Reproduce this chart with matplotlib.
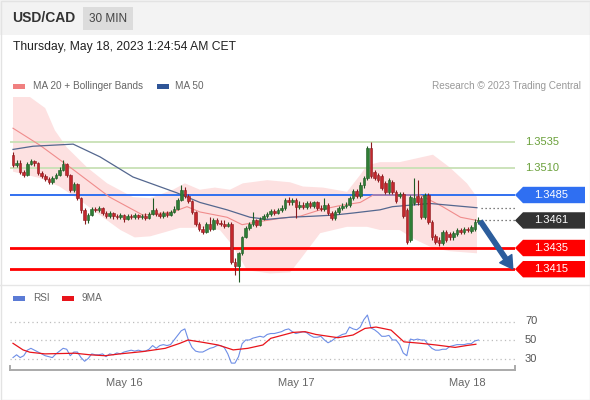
import matplotlib
matplotlib.use('Agg')
import matplotlib.pyplot as plt
import matplotlib.transforms as mtransforms
from matplotlib.patches import Polygon, Rectangle
from matplotlib.lines import Line2D
import numpy as np
import pandas as pd

plt.rcParams['font.family'] = ['Liberation Sans', 'DejaVu Sans']

# ---------------- data ----------------
times = pd.date_range('2023-05-15 08:30', periods=131, freq='30min')

opens = [1.3523, 1.3513, 1.3515, 1.3507, 1.3504, 1.3514, 1.3517, 1.3515, 1.3506, 1.3503,
         1.3500, 1.3497, 1.3501, 1.3504, 1.3509, 1.3514, 1.3504, 1.3490, 1.3495, 1.3482,
         1.3471, 1.3461, 1.3466, 1.3472, 1.3471, 1.3473, 1.3468, 1.3465, 1.3468, 1.3465,
         1.3464, 1.3466, 1.3462, 1.3465, 1.3464, 1.3466, 1.3464, 1.3465, 1.3463, 1.3467,
         1.3471, 1.3467, 1.3465, 1.3468, 1.3466, 1.3469, 1.3472, 1.3480, 1.3490, 1.3484,
         1.3479, 1.3469, 1.3458, 1.3453, 1.3450, 1.3458, 1.3453, 1.3461, 1.3459, 1.3458,
         1.3456, 1.3458, 1.3422, 1.3418, 1.3430, 1.3445, 1.3454, 1.3458, 1.3461, 1.3457,
         1.3462, 1.3465, 1.3467, 1.3470, 1.3468, 1.3471, 1.3473, 1.3480, 1.3478, 1.3480,
         1.3474, 1.3476, 1.3474, 1.3477, 1.3475, 1.3478, 1.3473, 1.3472, 1.3476, 1.3468,
         1.3463, 1.3469, 1.3473, 1.3475, 1.3476, 1.3482, 1.3489, 1.3484, 1.3494, 1.3501,
         1.3529, 1.3507, 1.3504, 1.3503, 1.3496, 1.3488, 1.3497, 1.3488, 1.3484, 1.3486,
         1.3471, 1.3443, 1.3477, 1.3484, 1.3482, 1.3464, 1.3485, 1.3460, 1.3446, 1.3443,
         1.3440, 1.3450, 1.3448, 1.3445, 1.3448, 1.3452, 1.3450, 1.3453, 1.3451, 1.3453,
         1.3460]
closes = [1.3513, 1.3515, 1.3507, 1.3504, 1.3514, 1.3517, 1.3515, 1.3506, 1.3503, 1.3500,
          1.3497, 1.3501, 1.3504, 1.3509, 1.3514, 1.3504, 1.3490, 1.3495, 1.3482, 1.3471,
          1.3461, 1.3466, 1.3472, 1.3471, 1.3473, 1.3468, 1.3465, 1.3468, 1.3465, 1.3464,
          1.3466, 1.3462, 1.3465, 1.3464, 1.3466, 1.3464, 1.3465, 1.3463, 1.3467, 1.3471,
          1.3467, 1.3465, 1.3468, 1.3466, 1.3469, 1.3472, 1.3480, 1.3490, 1.3484, 1.3479,
          1.3469, 1.3458, 1.3453, 1.3450, 1.3458, 1.3453, 1.3461, 1.3459, 1.3458, 1.3456,
          1.3458, 1.3422, 1.3418, 1.3430, 1.3445, 1.3454, 1.3458, 1.3461, 1.3457, 1.3462,
          1.3465, 1.3467, 1.3470, 1.3468, 1.3471, 1.3473, 1.3480, 1.3478, 1.3480, 1.3474,
          1.3476, 1.3474, 1.3477, 1.3475, 1.3478, 1.3473, 1.3472, 1.3476, 1.3468, 1.3463,
          1.3469, 1.3473, 1.3475, 1.3476, 1.3482, 1.3489, 1.3484, 1.3494, 1.3501, 1.3529,
          1.3503, 1.3501, 1.3499, 1.3492, 1.3488, 1.3499, 1.3488, 1.3479, 1.3486, 1.3465,
          1.3441, 1.3483, 1.3482, 1.3478, 1.3464, 1.3485, 1.3460, 1.3445, 1.3441, 1.3440,
          1.3450, 1.3443, 1.3445, 1.3449, 1.3452, 1.3450, 1.3453, 1.3452, 1.3455, 1.3460,
          1.3461]
highs = [1.3526, 1.3518, 1.3518, 1.3509, 1.3516, 1.3519, 1.3518, 1.3516, 1.3508, 1.3505,
         1.3502, 1.3503, 1.3506, 1.3511, 1.3518, 1.3515, 1.3505, 1.3497, 1.3496, 1.3483,
         1.3473, 1.3468, 1.3474, 1.3474, 1.3475, 1.3474, 1.3470, 1.3470, 1.3469, 1.3467,
         1.3468, 1.3467, 1.3467, 1.3467, 1.3468, 1.3467, 1.3467, 1.3468, 1.3469, 1.3482,
         1.3473, 1.3469, 1.3470, 1.3470, 1.3471, 1.3475, 1.3482, 1.3494, 1.3493, 1.3486,
         1.3480, 1.3470, 1.3460, 1.3456, 1.3460, 1.3464, 1.3463, 1.3463, 1.3461, 1.3461,
         1.3460, 1.3460, 1.3426, 1.3431, 1.3446, 1.3456, 1.3460, 1.3469, 1.3462, 1.3464,
         1.3467, 1.3469, 1.3472, 1.3472, 1.3473, 1.3476, 1.3482, 1.3483, 1.3482, 1.3482,
         1.3479, 1.3478, 1.3479, 1.3479, 1.3479, 1.3479, 1.3476, 1.3482, 1.3477, 1.3470,
         1.3471, 1.3475, 1.3477, 1.3478, 1.3484, 1.3491, 1.3491, 1.3497, 1.3503, 1.3531,
         1.3535, 1.3509, 1.3506, 1.3505, 1.3498, 1.3501, 1.3499, 1.3490, 1.3488, 1.3488,
         1.3473, 1.3485, 1.3501, 1.3499, 1.3484, 1.3487, 1.3487, 1.3461, 1.3448, 1.3445,
         1.3452, 1.3452, 1.3450, 1.3451, 1.3454, 1.3454, 1.3455, 1.3455, 1.3457, 1.3462,
         1.3464]
lows = [1.3511, 1.3511, 1.3505, 1.3502, 1.3503, 1.3513, 1.3512, 1.3504, 1.3501, 1.3498,
        1.3495, 1.3495, 1.3500, 1.3503, 1.3508, 1.3502, 1.3488, 1.3488, 1.3480, 1.3468,
        1.3458, 1.3459, 1.3465, 1.3469, 1.3469, 1.3466, 1.3463, 1.3463, 1.3462, 1.3462,
        1.3462, 1.3460, 1.3461, 1.3462, 1.3462, 1.3462, 1.3462, 1.3461, 1.3462, 1.3466,
        1.3465, 1.3463, 1.3463, 1.3464, 1.3465, 1.3468, 1.3471, 1.3479, 1.3482, 1.3477,
        1.3467, 1.3456, 1.3451, 1.3448, 1.3449, 1.3451, 1.3452, 1.3457, 1.3456, 1.3454,
        1.3455, 1.3420, 1.3410, 1.3403, 1.3428, 1.3444, 1.3452, 1.3456, 1.3455, 1.3456,
        1.3461, 1.3463, 1.3465, 1.3466, 1.3467, 1.3469, 1.3471, 1.3476, 1.3476, 1.3463,
        1.3472, 1.3472, 1.3472, 1.3473, 1.3473, 1.3471, 1.3470, 1.3470, 1.3466, 1.3461,
        1.3461, 1.3467, 1.3471, 1.3473, 1.3474, 1.3480, 1.3482, 1.3482, 1.3492, 1.3499,
        1.3501, 1.3499, 1.3497, 1.3490, 1.3486, 1.3486, 1.3486, 1.3477, 1.3482, 1.3463,
        1.3439, 1.3441, 1.3476, 1.3476, 1.3462, 1.3462, 1.3458, 1.3443, 1.3439, 1.3437,
        1.3438, 1.3441, 1.3443, 1.3443, 1.3446, 1.3448, 1.3448, 1.3450, 1.3449, 1.3451,
        1.3458]

# indicator readings (candle index, value)
ma20_idx = [0, 7.5, 16.8, 27, 36.3, 44.7, 48.6, 52.2, 59.8, 64, 69, 74.6, 80.2, 85.8,
            91.3, 97, 100.6, 106, 113.7, 120, 125, 129.6]
ma20_val = [1.3548, 1.3532, 1.3509, 1.3483, 1.3466, 1.3469, 1.3474, 1.3469, 1.3464, 1.3457,
            1.3460, 1.3463, 1.3465, 1.3471, 1.3475, 1.3478, 1.3485, 1.3485, 1.3485, 1.3474,
            1.3464, 1.3461]
ma50_idx = [0, 5.6, 16.8, 24.3, 33.5, 45.8, 52.2, 59.8, 66.2, 71, 77.4, 83.8, 89.4, 95,
            102.5, 106, 116.5, 129.6]
ma50_val = [1.3528, 1.3531, 1.3533, 1.3521, 1.3502, 1.3487, 1.3478, 1.3471, 1.3464, 1.3462,
            1.3464, 1.3465, 1.3466, 1.3468, 1.3471, 1.3474, 1.3477, 1.3473]
bb_up_idx = [0, 9, 11.7, 15, 20.7, 26.3, 33.5, 38.3, 44.7, 48, 52.2, 56.4, 60.6, 64.2,
             71, 77.4, 81, 86.6, 93.3, 97, 98.9, 102.5, 108, 117.3, 122, 126.8, 129.6]
bb_up_val = [1.3589, 1.3567, 1.3546, 1.3530, 1.3511, 1.3496, 1.3483, 1.3482, 1.3490, 1.3496,
             1.3490, 1.3492, 1.3490, 1.3496, 1.3499, 1.3497, 1.3493, 1.3492, 1.3488, 1.3504,
             1.3513, 1.3516, 1.3516, 1.3523, 1.3511, 1.3496, 1.3483]
bb_lo_idx = [0, 7.5, 13, 18.7, 24.3, 30, 34, 38.3, 42.5, 46.6, 52.2, 57.8, 61.2, 65.4,
             71.8, 77.4, 80.2, 85.8, 93.3, 98.9, 102.5, 108, 112.3, 117.3, 122, 129.6]
bb_lo_val = [1.3507, 1.3501, 1.3493, 1.3480, 1.3466, 1.3452, 1.3445, 1.3446, 1.3450, 1.3454,
             1.3454, 1.3452, 1.3438, 1.3414, 1.3411, 1.3412, 1.3424, 1.3449, 1.3455, 1.3455,
             1.3452, 1.3452, 1.3443, 1.3435, 1.3432, 1.3430]

rsi = [31, 34, 31, 33, 39, 41, 39, 37, 35, 33, 32, 31, 35, 38, 41, 40, 33, 37, 37, 31,
       27, 30, 35, 34, 34, 35, 32, 35, 34, 36, 35, 37, 38, 39, 38, 39, 38, 38, 40, 44,
       41, 44, 45, 44, 45, 50, 55, 60, 62, 50, 42, 38, 37, 37, 39, 41, 42, 44, 44, 42,
       35, 25, 25, 32, 46, 50, 50, 52, 53, 54, 53, 56, 57, 57, 58, 59, 61, 62, 59, 57,
       58, 59, 58, 55, 53, 53, 54, 50, 47, 49, 52, 54, 56, 57, 64, 62, 61, 64, 72, 77,
       63, 61, 58, 54, 54, 55, 50, 50, 45, 36, 33, 51, 50, 51, 50, 50, 45, 41, 39, 39,
       40, 40, 43, 44, 45, 45, 45, 46, 46, 49, 50]
rsi_ma_idx = [0, 2.8, 4.7, 8.9, 17.3, 21.5, 25.7, 29.9, 36.3, 42.5, 46.6, 48.9, 53, 57.3,
              61.5, 65.6, 69.8, 72, 78.2, 81.6, 84.6, 88.8, 90.8, 95, 98.3, 101.4, 105.6,
              109.2, 114, 118.2, 123.5, 126.5, 129.3]
rsi_ma_val = [46.4, 39.3, 36.8, 35, 35.7, 34, 33, 35, 37.5, 41, 46.4, 50, 47.5, 44.6,
              39.3, 41, 44.6, 51.8, 58.2, 59, 56, 53.6, 52.5, 55.4, 62.5, 64, 60.7,
              48, 46.4, 44.6, 42, 43.9, 45.4]

resist_levels = [1.3535, 1.3510]
pivot_level = 1.3485
last_price = 1.3461
support_levels = [1.3435, 1.3415]
rsi_levels = [70, 50, 30]

# ---------------- figure ----------------
W, H = 590, 400
fig = plt.figure(figsize=(W / 100, H / 100), dpi=100)
fig.patch.set_facecolor('white')

# header band
fig.patches.append(Rectangle((0, 1 - 35 / H), 1, 35 / H, transform=fig.transFigure,
                             facecolor='#f3f3f3', edgecolor='none', zorder=0))
fig.patches.append(Rectangle((83 / W, 1 - 30 / H), 50 / W, 23 / H, transform=fig.transFigure,
                             facecolor='#dcdcdc', edgecolor='none', zorder=1))
fig.text(12 / W, 1 - 18.5 / H, 'USD/CAD', fontsize=10, fontweight='bold', color='#333333',
         va='center', ha='left')
fig.text(108 / W, 1 - 18.5 / H, '30 MIN', fontsize=8.5, color='#444444', va='center', ha='center')
fig.text(13 / W, 1 - 47 / H, 'Thursday, May 18, 2023 1:24:54 AM CET', fontsize=8.7,
         color='#222222', va='center', ha='left')

# legend row
fig.patches.append(Rectangle((13 / W, 1 - 88.5 / H), 12 / W, 5 / H, transform=fig.transFigure,
                             facecolor='#f08080', edgecolor='none'))
fig.text(33 / W, 1 - 86 / H, 'MA 20 + Bollinger Bands', fontsize=7.2, color='#666666',
         va='center', ha='left')
fig.patches.append(Rectangle((157 / W, 1 - 88.5 / H), 12 / W, 5 / H, transform=fig.transFigure,
                             facecolor='#2f5597', edgecolor='none'))
fig.text(175 / W, 1 - 86 / H, 'MA 50', fontsize=7.2, color='#666666', va='center', ha='left')
fig.text(581 / W, 1 - 86 / H, 'Research \u00a9 2023 Trading Central', fontsize=7.2,
         color='#999999', va='center', ha='right')

# separator and border
fig.lines.append(Line2D([0, 1], [1 - 285 / H, 1 - 285 / H], transform=fig.transFigure,
                        color='#e6e6e6', lw=1))
fig.patches.append(Rectangle((0.5 / W, 0.5 / H), 1 - 1 / W, 1 - 1 / H, transform=fig.transFigure,
                             facecolor='none', edgecolor='#e3e3e3', lw=1))

# ---------------- price axes ----------------
x = np.arange(len(closes))
px_per_idx = 3.58
x0 = (10 - 13) / px_per_idx
x1 = (515 - 13) / px_per_idx
ax = fig.add_axes([10 / W, 1 - 284 / H, 505 / W, 187 / H])
ax.set_xlim(x0, x1)
ax.set_ylim(1.340104, 1.357745)
ax.axis('off')

# bollinger band fill
ax.fill(np.r_[bb_up_idx, bb_lo_idx[::-1]], np.r_[bb_up_val, bb_lo_val[::-1]],
        color='#fde1e1', lw=0, zorder=1)

# level lines
for lv in resist_levels:
    ax.axhline(lv, color='#c8e0b5', lw=1.3, zorder=2)
ax.axhline(pivot_level, color='#3170f0', lw=1.4, zorder=2)
for lv in support_levels:
    ax.axhline(lv, color='#ff0000', lw=2, zorder=2)

# moving averages
ax.plot(ma20_idx, ma20_val, color='#f08c8c', lw=0.8, zorder=3)
ax.plot(ma50_idx, ma50_val, color='#54678f', lw=0.9, zorder=3)

# candles
o = np.array(opens); c = np.array(closes); h = np.array(highs); l = np.array(lows)
up = c >= o
body_col = np.where(up, '#2f7d35', '#c3272c')
edge_col = np.where(up, '#1f5a24', '#8a1a1e')
ax.vlines(x, l, h, colors=edge_col, lw=0.8, zorder=4)
ax.bar(x, np.maximum(np.abs(c - o), 0.00004), bottom=np.minimum(o, c), width=0.72,
       color=body_col, edgecolor=edge_col, lw=0.4, zorder=5)

# dotted extensions
ax.hlines([last_price, ma50_val[-1]], x[-1] + 0.7, x1, colors='#555555', lw=0.9,
          linestyles=(0, (1, 2.2)), zorder=3)

# arrow
ax.annotate('', xy=(139.6, support_levels[1] + 0.00002), xytext=(x[-1] + 0.6, last_price - 0.0001),
            arrowprops=dict(width=3.2, headwidth=10.5, headlength=9, color='#2c5d9c', shrink=0),
            zorder=6, annotation_clip=False)

# right side labels
trans = mtransforms.blended_transform_factory(ax.transAxes, ax.transData)
half = 8.2 / 10600
tip = 8 / 505
wlab = 70 / 505
for lv in resist_levels:
    ax.text(1 + 10 / 505, lv, f'{lv:.4f}', transform=trans, color='#6aa03a', fontsize=8,
            va='center', ha='left', clip_on=False)

def tag(level, color):
    poly = Polygon([(1.0, level), (1 + tip, level + half), (1 + wlab, level + half),
                    (1 + wlab, level - half), (1 + tip, level - half)], closed=True,
                   transform=trans, facecolor=color, edgecolor='none', clip_on=False, zorder=7)
    ax.add_patch(poly)
    ax.text(1 + (tip + wlab) / 2 - 3 / 505, level, f'{level:.4f}', transform=trans, color='white',
            fontsize=8, va='center', ha='center', clip_on=False, zorder=8)

tag(pivot_level, '#2f6ff2')
tag(last_price, '#333333')
for lv in support_levels:
    tag(lv, '#ff0000')

# ---------------- RSI axes ----------------
ax2 = fig.add_axes([10 / W, 1 - 370 / H, 505 / W, 65 / H])
ax2.set_xlim(x0, x1)
r0 = 50 - 30 / 0.925
ax2.set_ylim(r0, 50 + 35 / 0.925)
ax2.set_facecolor('none')
for lv in rsi_levels:
    ax2.axhline(lv, color='#bdbdbd', lw=0.9, linestyle=(0, (1, 2.5)), zorder=1)
    ax2.text(1 + 10 / 505, lv, str(lv), transform=mtransforms.blended_transform_factory(
        ax2.transAxes, ax2.transData), fontsize=8, color='#555555', va='center', ha='left')
ax2.plot(x, rsi, color='#6e8ee6', lw=0.8, zorder=3)
ax2.plot(rsi_ma_idx, rsi_ma_val, color='#e8141b', lw=0.9, zorder=4)

for s in ['top']:
    ax2.spines[s].set_visible(False)
for s in ['bottom', 'left', 'right']:
    ax2.spines[s].set_color('#aaaaaa')
    ax2.spines[s].set_linewidth(1.4)
ax2.spines['left'].set_bounds(r0, r0 + 4.5 / 0.925)
ax2.spines['right'].set_bounds(r0, r0 + 4.5 / 0.925)
ax2.set_yticks([])
mid = [i for i, t in enumerate(times) if t.hour == 0 and t.minute == 0]
ax2.set_xticks(mid)
ax2.set_xticklabels([times[i].strftime('%b %d').replace(' 0', ' ') for i in mid],
                    fontsize=8, color='#666666')
ax2.tick_params(axis='x', length=0, pad=6)

# RSI legend
fig.patches.append(Rectangle((13 / W, 1 - 300.5 / H), 12 / W, 5 / H, transform=fig.transFigure,
                             facecolor='#5b7bd5', edgecolor='none'))
fig.text(33 / W, 1 - 298 / H, 'RSI', fontsize=7.2, color='#666666', va='center', ha='left')
fig.patches.append(Rectangle((62 / W, 1 - 300.5 / H), 12 / W, 5 / H, transform=fig.transFigure,
                             facecolor='#e8141b', edgecolor='none'))
fig.text(82 / W, 1 - 298 / H, '9MA', fontsize=7.2, color='#666666', va='center', ha='left')

fig.savefig('out.png', dpi=100, facecolor='white')
